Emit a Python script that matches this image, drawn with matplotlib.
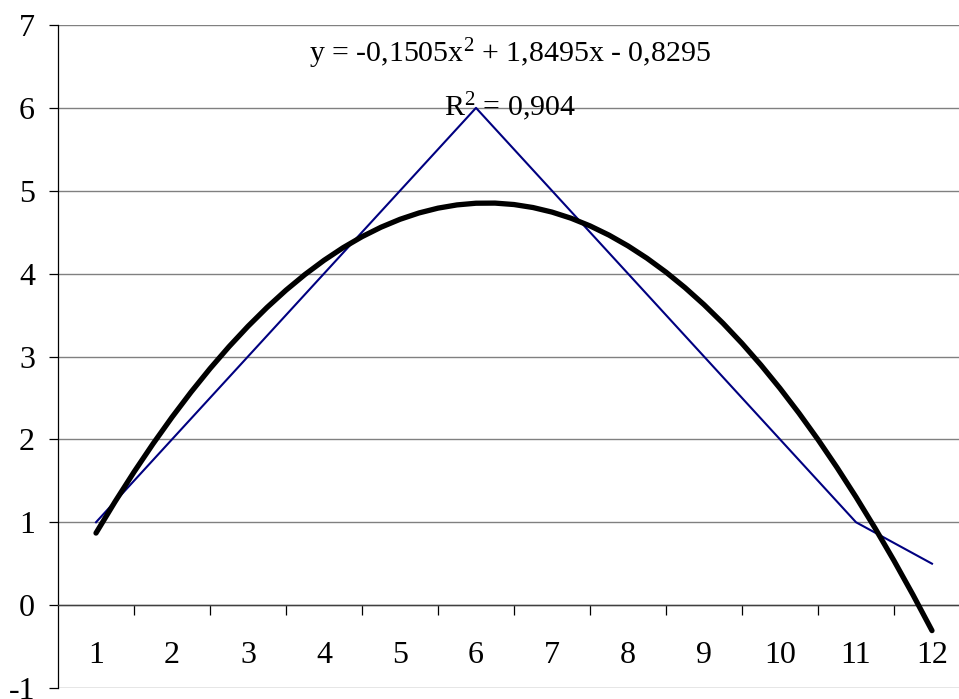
import numpy as np
import matplotlib
matplotlib.use("Agg")
import matplotlib.pyplot as plt
from matplotlib.ticker import FixedLocator, NullFormatter

categories = ["1", "2", "3", "4", "5", "6", "7", "8", "9", "10", "11", "12"]
values = [1, 2, 3, 4, 5, 6, 5, 4, 3, 2, 1, 0.5]
trend_coeffs = [-0.1505, 1.8495, -0.8295]   # from the chart's trendline label
equation_text = "y = -0,1505x$^2$ + 1,8495x - 0,8295"
r2_text = "R$^2$ = 0,904"
y_ticks = [-1, 0, 1, 2, 3, 4, 5, 6, 7]

plt.rcParams['font.family'] = ['Liberation Serif', 'DejaVu Serif']
plt.rcParams['mathtext.fontset'] = 'custom'
plt.rcParams['mathtext.rm'] = 'Liberation Serif'
plt.rcParams['mathtext.it'] = 'Liberation Serif'
plt.rcParams['mathtext.default'] = 'rm'
plt.rcParams['axes.unicode_minus'] = False

W, H = 959, 699
fig = plt.figure(figsize=(W / 100, H / 100), dpi=100)
left_px, right_px, top_px, bottom_px = 58, 970, 25, 688
ax = fig.add_axes([left_px / W, 1 - bottom_px / H,
                   (right_px - left_px) / W, (bottom_px - top_px) / H])

x = np.arange(1, len(categories) + 1)
ax.set_xlim(0.5, len(categories) + 0.5)
ax.set_ylim(-1, 7)

# gridlines
ax.set_yticks(y_ticks)
ax.yaxis.grid(True, color='#808080', linewidth=1.0)
ax.set_axisbelow(True)

# data line
ax.plot(x, values, color='#000080', linewidth=1.5, zorder=3)

# polynomial trendline
xt = np.linspace(1, len(categories), 45)
yt = np.polyval(trend_coeffs, xt)
ax.plot(xt, yt, color='black', linewidth=3.8, solid_capstyle='round', zorder=4)

# spines
for s in ['top', 'right']:
    ax.spines[s].set_visible(False)
ax.spines['left'].set_color('black')
ax.spines['left'].set_linewidth(0.9)
ax.spines['bottom'].set_position(('data', 0))
ax.spines['bottom'].set_color('#404040')
ax.spines['bottom'].set_linewidth(1.0)

# y ticks
ax.tick_params(axis='y', direction='out', length=6.5, width=0.9, pad=10,
               labelsize=23, colors='black')

# x ticks: labels at categories, tick marks between categories
ax.set_xticks(x)
ax.set_xticklabels(categories)
ax.xaxis.set_minor_locator(FixedLocator(np.arange(1.5, len(categories), 1.0)))
ax.xaxis.set_minor_formatter(NullFormatter())
ax.tick_params(axis='x', which='major', length=0, pad=26, labelsize=23)
ax.tick_params(axis='x', which='minor', direction='out', length=7.5, width=0.9,
               colors='black')

# equation texts
ax.text(6.45, 6.554, equation_text, ha='center', va='baseline', fontsize=21.5)
ax.text(6.45, 5.91, r2_text, ha='center', va='baseline', fontsize=21.5)

fig.savefig("out.png", dpi=100)
